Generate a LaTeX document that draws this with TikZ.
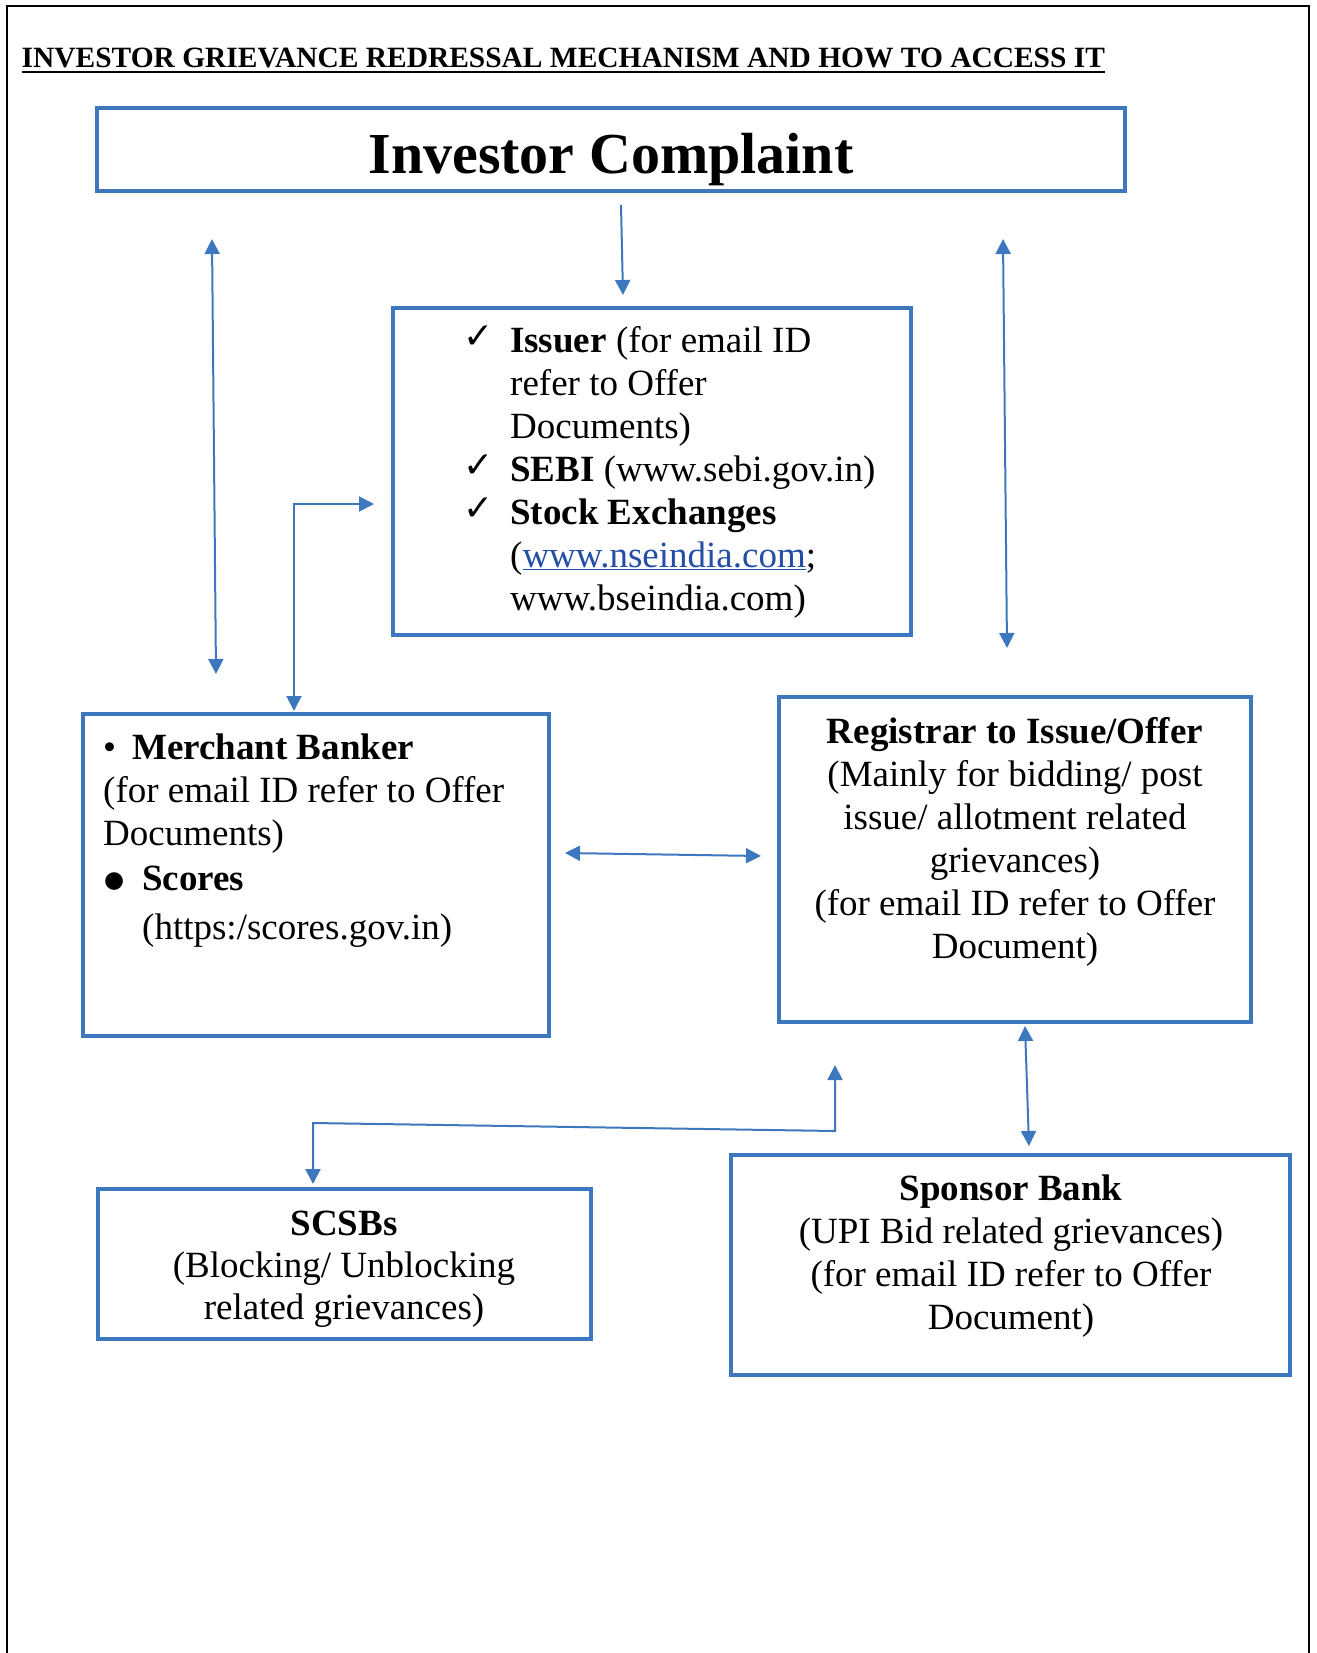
\documentclass[tikz,border=0pt]{standalone}
\usepackage{fontspec}
\setmainfont{Liberation Serif}
\newfontfamily\symfont{DejaVu Sans}
\usetikzlibrary{arrows.meta}
\definecolor{boxblue}{RGB}{61,120,190}
\definecolor{linkblue}{RGB}{35,78,165}
\newcommand\topstrut{\rule{0pt}{30pt}}
\newcommand\chk{\llap{\raisebox{4pt}{\symfont\bfseries\fontsize{36}{36}\selectfont ✓}\hspace{17pt}}}
\newcommand\bigdot{\raisebox{3pt}{\symfont\fontsize{23}{23}\selectfont ●}}
\begin{document}
\begin{tikzpicture}[x=1pt,y=-1pt,
  box/.style={draw=boxblue,line width=4.5pt,inner sep=0pt},
  arr/.style={draw=boxblue,line width=2pt,-{Triangle[length=15pt,width=15pt]}},
  darr/.style={draw=boxblue,line width=2pt,{Triangle[length=15pt,width=15pt]}-{Triangle[length=15pt,width=15pt]}},
  txt/.style={inner sep=0pt,font=\fontsize{37}{43}\selectfont},
]
\useasboundingbox (0,0) rectangle (1316,1653);
% outer frame
\draw[line width=2pt] (7,1653) -- (7,6) -- (1309,6) -- (1309,1653);

% title
\node[anchor=base west,inner sep=0pt,font=\bfseries\fontsize{29.45}{29.45}\selectfont] (title) at (21.5,67.3)
  {INVESTOR GRIEVANCE REDRESSAL MECHANISM AND HOW TO ACCESS IT};
\draw[line width=2.5pt] ([yshift=-4.5pt]title.base west) -- ([yshift=-4.5pt]title.base east);

% boxes
\node[box,minimum width=1028pt,minimum height=83pt] (ic) at (611,149.5) {};
\node[anchor=base,inner sep=0pt,font=\bfseries\fontsize{58}{58}\selectfont] (ict) at (611,174) {Investor Complaint};

\node[box,minimum width=518pt,minimum height=327pt] (iss) at (652,471.5) {};
\node[txt,anchor=north west,align=left] (isst) at (510,322) {%
\topstrut\chk\textbf{Issuer} (for email ID\\
refer to Offer\\
Documents)\\
\chk\textbf{SEBI} (www.sebi.gov.in)\\
\chk\textbf{Stock Exchanges}\\
(\textcolor{linkblue}{\underline{www.nseindia.com}};\\
www.bseindia.com)};

\node[box,minimum width=466pt,minimum height=322pt] (mb) at (316,875) {};
\node[txt,anchor=north west,align=left] (mbt) at (103,729) {%
\topstrut\makebox[29pt][l]{•}\textbf{Merchant Banker}\\
(for email ID refer to Offer\\
Documents)\\[2pt]
\makebox[39pt][l]{\hspace{1pt}\bigdot}\textbf{Scores}\\[6pt]
\hspace{39pt}(https:/scores.gov.in)};

\node[box,minimum width=472pt,minimum height=325pt] (reg) at (1015,859.5) {};
\node[txt,anchor=north,align=center] (regt) at (1015,713) {%
\topstrut\textbf{Registrar to Issue/Offer}\\
(Mainly for bidding/ post\\
issue/ allotment related\\
grievances)\\
(for email ID refer to Offer\\
Document)};

\node[box,minimum width=493pt,minimum height=150pt] (scsb) at (344.5,1264) {};
\node[txt,anchor=north,align=center,font=\fontsize{37}{42}\selectfont] (scsbt) at (344,1205) {%
\topstrut\textbf{SCSBs}\\
(Blocking/ Unblocking\\
related grievances)};

\node[box,minimum width=559pt,minimum height=220pt] (sp) at (1010.5,1265) {};
\node[txt,anchor=north,align=center] (spt) at (1011,1170) {%
\topstrut\textbf{Sponsor Bank}\\
(UPI Bid related grievances)\\
(for email ID refer to Offer\\
Document)};

% connector end points
\coordinate (c1a) at (621,205);   \coordinate (c1b) at (623,295);
\coordinate (l1) at (212,239);    \coordinate (l2) at (216,674);
\coordinate (r1) at (1003,239);   \coordinate (r2) at (1007,648);
\coordinate (e1) at (294,711);    \coordinate (e2) at (374,504);
\coordinate (h1) at (565,853);    \coordinate (h2) at (761,856);
\coordinate (v1) at (1025,1026);  \coordinate (v2) at (1029,1146);
\coordinate (s1) at (313,1184);   \coordinate (s2) at (313,1123);
\coordinate (s3) at (835,1131);   \coordinate (s4) at (835,1065);

% connectors
\draw[arr] (c1a) -- (c1b);
\draw[darr] (l1) -- (l2);
\draw[darr] (r1) -- (r2);
\draw[darr] (e1) |- (e2);
\draw[darr] (h1) -- (h2);
\draw[darr] (v1) -- (v2);
\draw[darr] (s1) -- (s2) -- (s3) -- (s4);
\end{tikzpicture}
\end{document}
